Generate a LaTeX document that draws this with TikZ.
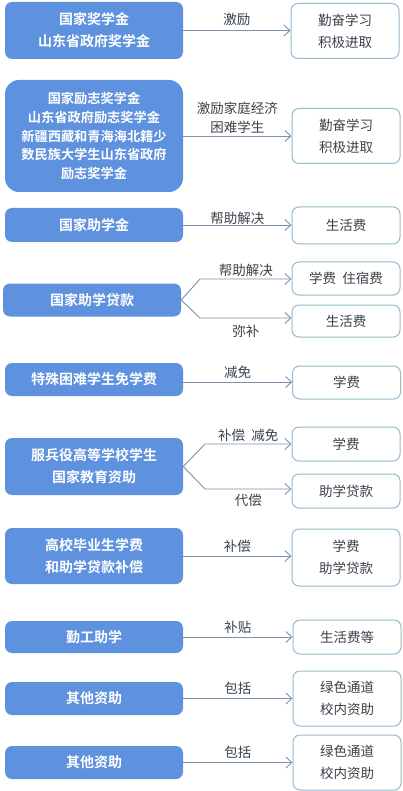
\documentclass[tikz,border=0pt]{standalone}
\usepackage{fontspec}
\usepackage{xcolor}
\usepackage{tikz}
\usetikzlibrary{arrows.meta,positioning}
\newfontfamily\cjk{Noto Sans CJK SC}
\newfontfamily\cjkbold{Noto Sans CJK SC Bold}
\definecolor{aidblue}{RGB}{94,145,222}
\definecolor{boxline}{RGB}{150,188,206}
\definecolor{linkgray}{RGB}{122,146,172}
\definecolor{inkgray}{RGB}{60,66,74}

\begin{document}
\begin{tikzpicture}[
  x=1pt, y=-1pt,
  aid/.style={fill=aidblue, rounded corners=7pt, text=white, align=center,
              minimum width=178pt, inner sep=0pt,
              font=\cjkbold\fontsize{14}{22}\selectfont},
  use/.style={draw=boxline, line width=1pt, fill=white, rounded corners=7pt,
              text=inkgray, align=center, minimum width=108pt, inner sep=0pt,
              font=\cjk\fontsize{13.5}{22}\selectfont},
  link/.style={draw=linkgray, line width=0.9pt,
               -{Straight Barb[length=6pt,width=11pt]}},
  lbl/.style={text=inkgray, inner sep=1pt, align=center,
              font=\cjk\fontsize{13.5}{19}\selectfont}
]
\fill[white] (0,0) rectangle (403,791);
\useasboundingbox (0,0) rectangle (403,791);

% left column
\node[aid, minimum height=57pt] (l1) at (94,30.5) {国家奖学金\\山东省政府奖学金};
\node[aid, minimum height=112pt, rounded corners=14pt,
      font=\cjkbold\fontsize{13.2}{18.7}\selectfont] (l2) at (94,136)
  {国家励志奖学金\\山东省政府励志奖学金\\新疆西藏和青海海北籍少\\数民族大学生山东省政府\\励志奖学金};
\node[aid, minimum height=34pt] (l3) at (94,225) {国家助学金};
\node[aid, minimum height=33pt] (l4) at (92,300) {国家助学贷款};
\node[aid, minimum height=33pt] (l5) at (94,379.5) {特殊困难学生免学费};
\node[aid, minimum height=57pt] (l6) at (94,466.5) {服兵役高等学校学生\\国家教育资助};
\node[aid, minimum height=56pt] (l7) at (94,556) {高校毕业生学费\\和助学贷款补偿};
\node[aid, minimum height=32pt] (l8) at (94,637) {勤工助学};
\node[aid, minimum height=33pt] (l9) at (94,698.5) {其他资助};
\node[aid, minimum height=33pt] (l10) at (94,762.5) {其他资助};

% right column
\node[use, minimum height=55pt] (r1) at (345,31) {勤奋学习\\积极进取};
\node[use, minimum height=55pt] (r2) at (346,136) {勤奋学习\\积极进取};
\node[use, minimum height=37pt] (r3) at (346,225.5) {生活费};
\node[use, minimum height=33pt] (r4a) at (346,278.5) {学费\ \ 住宿费};
\node[use, minimum height=32pt] (r4b) at (346,321) {生活费};
\node[use, minimum height=33pt] (r5) at (346.5,382.5) {学费};
\node[use, minimum height=34pt] (r6a) at (346,444) {学费};
\node[use, minimum height=34pt] (r6b) at (346,491) {助学贷款};
\node[use, minimum height=57pt] (r7) at (346,557.5) {学费\\助学贷款};
\node[use, minimum height=34pt] (r8) at (347,637) {生活费等};
\node[use, minimum height=55pt] (r9) at (347,698.5) {绿色通道\\校内资助};
\node[use, minimum height=55pt] (r10) at (347,762.5) {绿色通道\\校内资助};

\coordinate (b4a) at (200,279);
\coordinate (b4b) at (200,318);
\coordinate (b6a) at (205,444);
\coordinate (b6b) at (205,489);

% links
\draw[link] (l1.east) -- node[lbl, above=3pt] {激励} (l1.east -| r1.west);
\draw[link] (l2.east) -- node[lbl, above=1pt] {激励家庭经济\\困难学生} (l2.east -| r2.west);
\draw[link] (l3.east) -- node[lbl, above=-1pt] {帮助解决} (l3.east -| r3.west);
\draw[link] (l4.east) -- (b4a) -- node[lbl, above=1pt] {帮助解决} (b4a -| r4a.west);
\draw[link] (l4.east) -- (b4b) -- node[lbl, below=6pt] {弥补} (b4b -| r4b.west);
\draw[link] (l5.east) ++(0,2.5) -- node[lbl, above=2pt] {减免} ++(109,0);
\draw[link] (l6.east) -- (b6a) -- node[lbl, above=1pt] {补偿\ \ 减免} (b6a -| r6a.west);
\draw[link] (l6.east) -- (b6b) -- node[lbl, below=4pt] {代偿} (b6b -| r6b.west);
\draw[link] (l7.east) -- node[lbl, above=2pt] {补偿} (l7.east -| r7.west);
\draw[link] (l8.east) -- node[lbl, above=2pt] {补贴} (l8.east -| r8.west);
\draw[link] (l9.east) -- node[lbl, above=2pt] {包括} (l9.east -| r9.west);
\draw[link] (l10.east) -- node[lbl, above=2pt] {包括} (l10.east -| r10.west);
\end{tikzpicture}
\end{document}
